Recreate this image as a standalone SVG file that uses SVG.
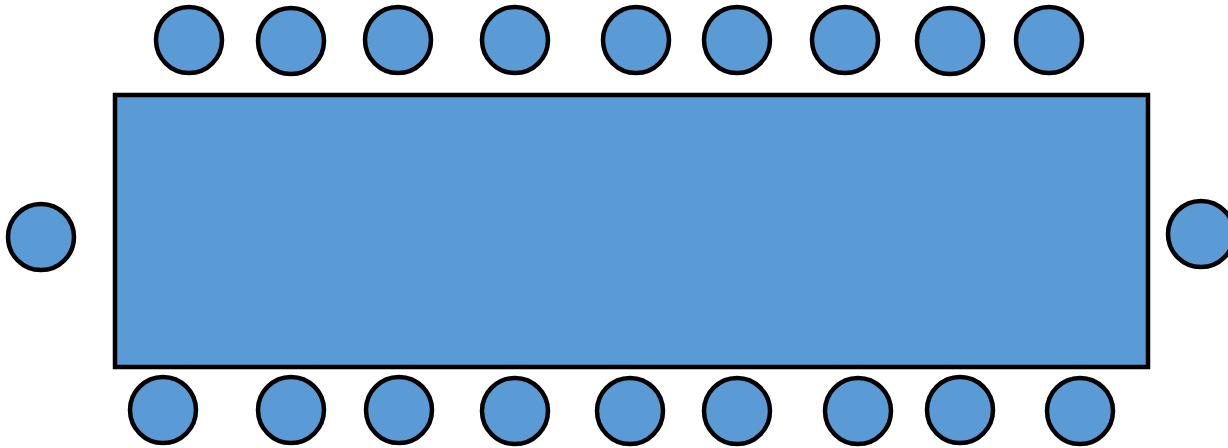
<svg xmlns="http://www.w3.org/2000/svg" width="1228" height="448" viewBox="0 0 1228 448">
<style>
.t{fill:#5b9bd5;stroke:#000;stroke-width:4.5}
.c{fill:#5b9bd5;stroke:#000;stroke-width:4.5}
</style>
<rect width="1228" height="448" fill="#fff"/>
<g id="table"><rect class="t" x="115" y="95" width="1033" height="272"/></g>
<g id="top-chairs">
<circle id="t1" class="c" cx="189" cy="40" r="33"/>
<circle id="t2" class="c" cx="291" cy="41" r="33"/>
<circle id="t3" class="c" cx="398" cy="40" r="33"/>
<circle id="t4" class="c" cx="515" cy="40" r="33"/>
<circle id="t5" class="c" cx="636" cy="40" r="33"/>
<circle id="t6" class="c" cx="737" cy="40" r="33"/>
<circle id="t7" class="c" cx="845" cy="40" r="33"/>
<circle id="t8" class="c" cx="950" cy="41" r="33"/>
<circle id="t9" class="c" cx="1049" cy="40" r="33"/>
</g>
<g id="side-chairs">
<circle id="l1" class="c" cx="41" cy="237" r="33"/>
<circle id="r1" class="c" cx="1201" cy="234" r="33"/>
</g>
<g id="bottom-chairs">
<circle id="b1" class="c" cx="163" cy="410" r="33"/>
<circle id="b2" class="c" cx="291" cy="410" r="33"/>
<circle id="b3" class="c" cx="399" cy="410" r="33"/>
<circle id="b4" class="c" cx="515" cy="411" r="33"/>
<circle id="b5" class="c" cx="630" cy="411" r="33"/>
<circle id="b6" class="c" cx="737" cy="411" r="33"/>
<circle id="b7" class="c" cx="858" cy="411" r="33"/>
<circle id="b8" class="c" cx="960" cy="410" r="33"/>
<circle id="b9" class="c" cx="1080" cy="411" r="33"/>
</g>
</svg>
